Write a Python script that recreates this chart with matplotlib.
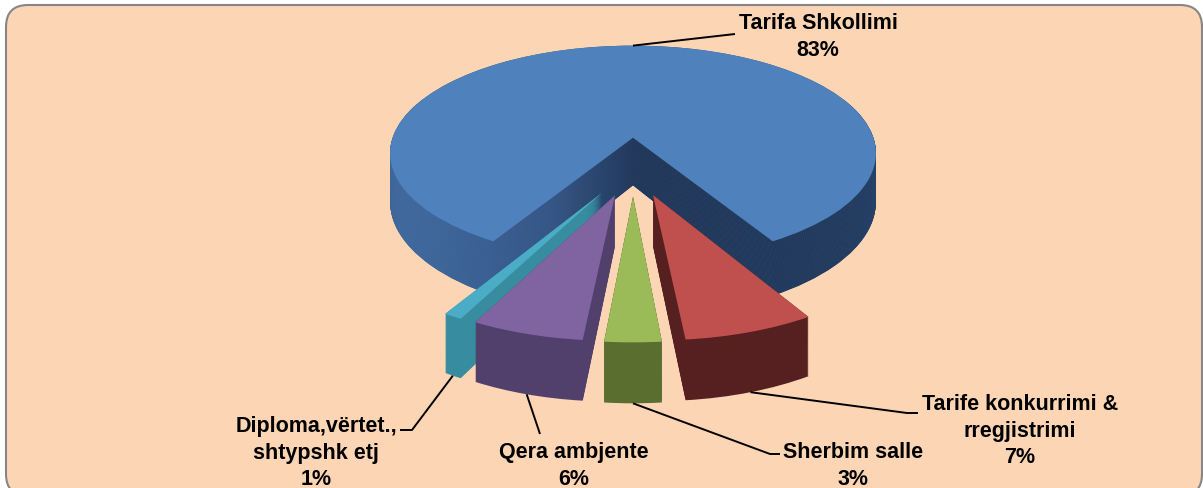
import numpy as np
import matplotlib.pyplot as plt
from matplotlib.patches import FancyBboxPatch
from matplotlib.transforms import Transform, IdentityTransform
from matplotlib.colors import LinearSegmentedColormap

# data
labels = ['Tarifa Shkollimi', 'Tarife konkurrimi &\nrregjistrimi', 'Sherbim salle',
          'Qera ambjente', 'Diploma,vërtet.,\nshtypshk etj']
values = [83, 7, 3, 6, 1]
top_colors = ['#4F81BD', '#C0504D', '#9BBB59', '#8064A2', '#4BACC6']
side_colors = ['#33557F', '#55201F', '#5A6E30', '#52406C', '#378C9F']
explode = [0.267, 0.25, 0.25, 0.25, 0.25]

W, H = 1203, 488
# simple perspective for the tilted pie (pixels, y measured from top)
cx_px, cy_px = 633, 167
scale_x, scale_y = 250, 114
persp = 0.15
wall = 49.5
nlayers = 60
start = 239.4
draw_order = [0, 4, 3, 1, 2]   # back to front

# label centres and leader elbows, pixels
label_pos = [(818, 37), (1020, 431), (853, 466), (574, 466), (316, 453)]
elbows = [[(735, 34)], [(907, 413), (918, 413)], [(770, 454), (780, 454)],
          [(540, 434)], [(412, 430), (400, 430)]]


class Tilt(Transform):
    input_dims = output_dims = 2

    def __init__(self, z=0.0):
        super().__init__()
        self.z = z

    def transform_non_affine(self, values):
        v = np.asarray(values, dtype=float).reshape(-1, 2)
        x, y = v[:, 0], v[:, 1]
        s = 1.0 / (1.0 + persp * y)
        return np.column_stack([cx_px + scale_x * x * s,
                                cy_px - (scale_y * y + wall * self.z) * s])


fig = plt.figure(figsize=(W / 100, H / 100), dpi=100)
fig.patch.set_facecolor('white')
frame = FancyBboxPatch((6, -8), 1196, 491, boxstyle='round,pad=0,rounding_size=22',
                       transform=IdentityTransform(), facecolor='#FCD5B5',
                       edgecolor='#868686', linewidth=1.5, zorder=-5)
fig.add_artist(frame)

ax = fig.add_axes([0, 0, 1, 1])
ax.patch.set_alpha(0)

blue_shade = LinearSegmentedColormap.from_list(
    'blue_side', [(0, '#4875AE'), (0.33, '#38598A'), (0.5, '#1F3252'), (1, '#22395B')])
grad = np.linspace(0, 1, 256).reshape(1, -1)

# side walls: stack of pies at decreasing height
zs = np.linspace(-1, 0, nlayers)
for k, z in enumerate(zs):
    wedges, _ = ax.pie(values, explode=explode, colors=side_colors, startangle=start,
                       counterclock=False, wedgeprops=dict(linewidth=0))
    for i, w in enumerate(wedges):
        w.set_transform(Tilt(z) + ax.transData)
        w.set_zorder(10 * draw_order.index(i) + k / nlayers)
    im = ax.imshow(grad, cmap=blue_shade, aspect='auto', extent=(385, 885, 320, 100),
                   zorder=k / nlayers + 0.001, interpolation='bilinear')
    im.set_clip_path(wedges[0])

tops, _ = ax.pie(values, explode=explode, colors=top_colors, startangle=start,
                 counterclock=False, wedgeprops=dict(linewidth=0))
for i, w in enumerate(tops):
    w.set_transform(Tilt(0) + ax.transData)
    w.set_zorder(10 * draw_order.index(i) + 5)

ax.set_aspect('auto')
ax.set_xlim(0, W)
ax.set_ylim(H, 0)
ax.axis('off')

# leader lines and labels
total = sum(values)
cum = 0
for i, v in enumerate(values):
    t1 = start - 360 * cum / total
    t2 = t1 - 360 * v / total
    cum += v
    mid = np.deg2rad((t1 + t2) / 2)
    ox, oy = explode[i] * np.cos(mid), explode[i] * np.sin(mid)
    if i == 0:
        anchor = Tilt(0).transform([[ox, oy + 1]])[0]
    else:
        anchor = Tilt(-1).transform([[ox + np.cos(mid), oy + np.sin(mid)]])[0]
    pts = [tuple(anchor)] + elbows[i]
    xs, ys = zip(*pts)
    ax.plot(xs, ys, color='black', lw=1.4, zorder=60, solid_capstyle='butt')

    pct = round(100 * v / total)
    ax.text(label_pos[i][0], label_pos[i][1], f'{labels[i]}\n{pct}%',
            ha='center', va='center', fontsize=15.5, fontweight='bold',
            family='Liberation Sans', linespacing=1.33, zorder=70)

fig.savefig('out.png', dpi=100)
